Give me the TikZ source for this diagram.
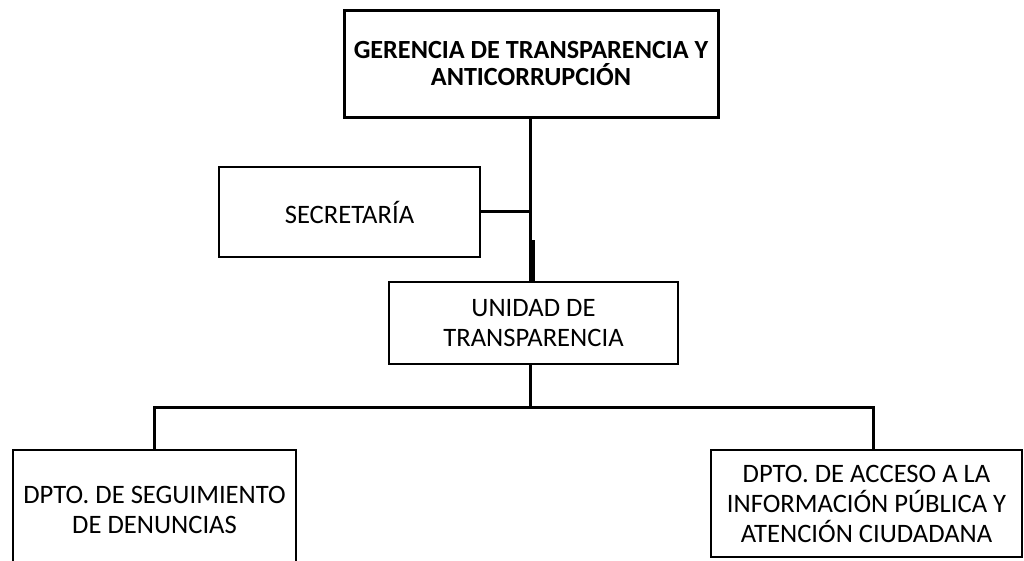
\documentclass[tikz,border=0pt]{standalone}
\usepackage{fontspec}
\setmainfont{Carlito}
\begin{document}
\begin{tikzpicture}[x=1pt,y=-1pt,
  box/.style={draw, line width=2pt, inner sep=0pt, align=center,
    font=\fontsize{26.6}{30}\selectfont},
  conn/.style={line width=3pt}]
\useasboundingbox (0,0) rectangle (1024,561);
\clip (0,0) rectangle (1024,561);
\node[box, line width=3pt, minimum width=374pt, minimum height=107pt,
  font=\bfseries\fontsize{26.2}{27}\selectfont] (ger) at (531,64)
  {GERENCIA DE TRANSPARENCIA Y\\ANTICORRUPCIÓN};
\node[box, minimum width=261pt, minimum height=90pt] (sec) at (349.5,212) {SECRETARÍA};
\node[box, minimum width=289pt, minimum height=82pt] (uni) at (533.5,323)
  {UNIDAD DE\\TRANSPARENCIA};
\node[box, minimum width=283pt, minimum height=120pt] (seg) at (154.5,510)
  {DPTO. DE SEGUIMIENTO\\DE DENUNCIAS};
\node[box, minimum width=311pt, minimum height=107pt] (acc) at (866.5,503.5)
  {DPTO. DE ACCESO A LA\\INFORMACIÓN PÚBLICA Y\\ATENCIÓN CIUDADANA};
\coordinate (j) at (530,240);
\coordinate (h) at (530,407);
\coordinate (r) at (873,407);
\draw[conn] (ger.south -| j) -- (j |- uni.north);
\draw[conn] ([xshift=3pt]j) -- ([xshift=3pt]j |- uni.north);
\draw[conn] (sec.east) -- (sec.east -| j);
\draw[conn] (uni.south -| h) -- (h);
\draw[conn] (seg.north) -- (seg.north |- h) -- (r) -- (r |- acc.north);
\end{tikzpicture}
\end{document}
